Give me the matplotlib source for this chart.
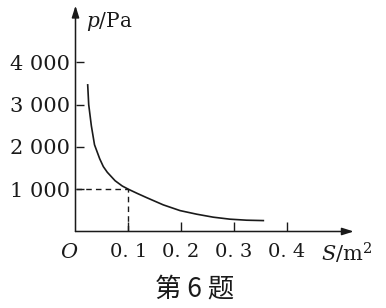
import matplotlib
matplotlib.use("Agg")
import matplotlib.pyplot as plt

# curve: area S (m^2) and pressure p (Pa)
S = [0.0231, 0.0250, 0.0300, 0.0360, 0.0458, 0.0527, 0.0602, 0.0750, 0.0886,
     0.1000, 0.1170, 0.1348, 0.1663, 0.1980, 0.2295, 0.2610, 0.2926, 0.3240, 0.3557]
p = [3466, 3000, 2500, 2050, 1720, 1534, 1400, 1200, 1075,
     1000, 900, 800, 629, 494, 409, 338, 291, 267, 258]

# marked point with dashed guides
mark_S = 0.1
mark_p = 1000

x_ticks = [0.1, 0.2, 0.3, 0.4]
x_labels = ["0. 1", "0. 2", "0. 3", "0. 4"]
y_ticks = [1000, 2000, 3000, 4000]
y_labels = ["1 000", "2 000", "3 000", "4 000"]

plt.rcParams["font.family"] = ["DejaVu Serif"]
plt.rcParams["mathtext.fontset"] = "custom"
plt.rcParams["mathtext.it"] = "DejaVu Serif:italic"
plt.rcParams["mathtext.rm"] = "DejaVu Serif"

ink = "#1a1a1a"
W, H = 386, 308


def fxy(px, py):
    # pixel position (from top-left) -> figure fraction
    return px / W, 1 - py / H


fig = plt.figure(figsize=(3.86, 3.08), dpi=100)
ax = fig.add_axes([0.1956, 0.2484, 0.7319, 0.7354])
ax.set_xlim(0, 0.535)
ax.set_ylim(0, 5355)

for side in ["top", "right", "left", "bottom"]:
    ax.spines[side].set_visible(False)

# axes with arrow heads
arrow = dict(arrowstyle="-|>,head_length=0.7,head_width=0.22", color=ink,
             lw=1.1, shrinkA=0, shrinkB=0)
ax.annotate("", xy=(0.527, 0), xytext=(0, 0), arrowprops=arrow, annotation_clip=False)
ax.annotate("", xy=(0, 5340), xytext=(0, 0), arrowprops=arrow, annotation_clip=False)

ax.plot(S, p, color=ink, lw=1.2)
ax.plot([0, mark_S], [mark_p, mark_p], color=ink, lw=1.0, ls=(0, (4, 3)))
ax.plot([mark_S, mark_S], [0, mark_p], color=ink, lw=1.0, ls=(0, (4, 3)))

ax.set_xticks(x_ticks)
ax.set_xticklabels(x_labels)
ax.set_yticks(y_ticks)
ax.set_yticklabels(y_labels)
ax.tick_params(axis="x", direction="in", length=6.5, width=1, pad=8,
               labelsize=14, colors=ink)
ax.tick_params(axis="y", direction="in", length=5.8, width=1, pad=4,
               labelsize=15, colors=ink)

fig.text(*fxy(69, 252), "$O$", fontsize=15, ha="center", va="center", color=ink)
fig.text(*fxy(321, 262), "$S$/m$^2$", fontsize=15, ha="left", va="baseline", color=ink)
fig.text(*fxy(86, 27), "$p$/Pa", fontsize=14.5, ha="left", va="baseline", color=ink)

fig.text(*fxy(195, 289), "第 6 题", fontsize=19, ha="center", va="center",
         family=["Noto Sans CJK SC", "DejaVu Sans"], color=ink)

fig.savefig("out.png", dpi=100)
